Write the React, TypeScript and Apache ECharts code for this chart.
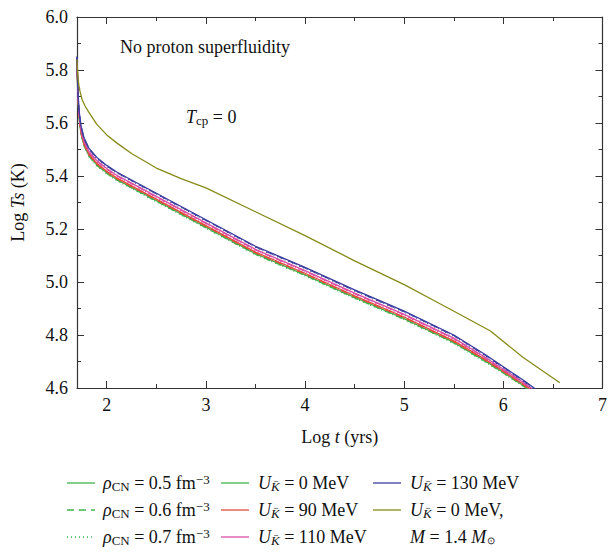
import React, { useEffect, useRef } from "react";
import * as echarts from "echarts";

// ---- data ----
const logT = [1.7, 1.705, 1.71, 1.72, 1.74, 1.77, 1.82, 1.9, 2.0, 2.1, 2.25, 2.5, 2.75, 3.0, 3.5, 4.0, 4.5, 5.0, 5.5, 5.8, 6.0, 6.2, 6.4];

const blue05 = [5.85, 5.78, 5.72, 5.65, 5.59, 5.545, 5.505, 5.47, 5.44, 5.415, 5.385, 5.335, 5.285, 5.235, 5.135, 5.055, 4.97, 4.89, 4.8, 4.73, 4.68, 4.63, 4.575];
const blue06 = [5.85, 5.778, 5.718, 5.648, 5.588, 5.543, 5.503, 5.468, 5.438, 5.413, 5.383, 5.333, 5.283, 5.233, 5.133, 5.053, 4.968, 4.888, 4.798, 4.728, 4.678, 4.628, 4.573];
const blue07 = [5.85, 5.776, 5.716, 5.646, 5.586, 5.541, 5.501, 5.466, 5.436, 5.411, 5.381, 5.331, 5.281, 5.231, 5.131, 5.051, 4.966, 4.886, 4.796, 4.726, 4.676, 4.626, 4.571];

const pink05 = [5.845, 5.77, 5.708, 5.638, 5.578, 5.533, 5.493, 5.458, 5.428, 5.403, 5.373, 5.323, 5.273, 5.223, 5.123, 5.043, 4.958, 4.878, 4.788, 4.72, 4.671, 4.622, 4.567];
const pink06 = [5.843, 5.768, 5.706, 5.636, 5.576, 5.531, 5.491, 5.456, 5.426, 5.401, 5.371, 5.321, 5.271, 5.221, 5.121, 5.041, 4.956, 4.876, 4.786, 4.718, 4.669, 4.62, 4.565];
const pink07 = [5.841, 5.766, 5.704, 5.634, 5.574, 5.529, 5.489, 5.454, 5.424, 5.399, 5.369, 5.319, 5.269, 5.219, 5.119, 5.039, 4.954, 4.874, 4.784, 4.716, 4.667, 4.618, 4.563];

const red05 = [5.84, 5.76, 5.698, 5.628, 5.568, 5.523, 5.483, 5.448, 5.418, 5.393, 5.363, 5.313, 5.263, 5.213, 5.113, 5.033, 4.948, 4.868, 4.778, 4.712, 4.664, 4.615, 4.56];
const red06 = [5.838, 5.758, 5.696, 5.626, 5.566, 5.521, 5.481, 5.446, 5.416, 5.391, 5.361, 5.311, 5.261, 5.211, 5.111, 5.031, 4.946, 4.866, 4.776, 4.71, 4.662, 4.613, 4.558];
const red07 = [5.836, 5.756, 5.694, 5.624, 5.564, 5.519, 5.479, 5.444, 5.414, 5.389, 5.359, 5.309, 5.259, 5.209, 5.109, 5.029, 4.944, 4.864, 4.774, 4.708, 4.66, 4.611, 4.556];

const green05 = [5.835, 5.752, 5.692, 5.622, 5.562, 5.517, 5.477, 5.442, 5.412, 5.387, 5.357, 5.307, 5.257, 5.207, 5.107, 5.027, 4.942, 4.862, 4.772, 4.706, 4.659, 4.61, 4.555];
const green06 = [5.833, 5.75, 5.69, 5.62, 5.56, 5.515, 5.475, 5.44, 5.41, 5.385, 5.355, 5.305, 5.255, 5.205, 5.105, 5.025, 4.94, 4.86, 4.77, 4.704, 4.657, 4.608, 4.553];
const green07 = [5.831, 5.748, 5.688, 5.618, 5.558, 5.513, 5.473, 5.438, 5.408, 5.383, 5.353, 5.303, 5.253, 5.203, 5.103, 5.023, 4.938, 4.858, 4.768, 4.702, 4.655, 4.606, 4.551];

const logTOlive = [1.7, 1.705, 1.71, 1.72, 1.73, 1.75, 1.78, 1.82, 1.9, 2.0, 2.1, 2.25, 2.5, 2.75, 3.0, 3.5, 4.0, 4.5, 5.0, 5.3, 5.6, 5.87, 6.2, 6.57];
const olive = [5.84, 5.8, 5.77, 5.74, 5.72, 5.69, 5.665, 5.64, 5.595, 5.555, 5.525, 5.485, 5.43, 5.39, 5.355, 5.265, 5.175, 5.08, 4.99, 4.93, 4.87, 4.815, 4.715, 4.62];

const xMajorTicks = [2, 3, 4, 5, 6, 7];
const xMinorTicks = [2.5, 3.5, 4.5, 5.5, 6.5];

const legendLabels = [
  "{i|ρ}{sub|CN} = 0.5 fm{sup|−3}",
  "{i|ρ}{sub|CN} = 0.6 fm{sup|−3}",
  "{i|ρ}{sub|CN} = 0.7 fm{sup|−3}",
  "{i|U}{subi|K̄} = 0 MeV",
  "{i|U}{subi|K̄} = 90 MeV",
  "{i|U}{subi|K̄} = 110 MeV",
  "{i|U}{subi|K̄} = 130 MeV",
  "{i|U}{subi|K̄} = 0 MeV,",
  "{i|M} = 1.4 {i|M}{sun|⊙}",
];

const COLORS = { green: "#3db54a", red: "#e84a3c", pink: "#d94fa6", blue: "#3b3f9e", olive: "#878a16" };
const DASH: any = { solid: "solid", dashed: [7, 5], dotted: [1, 3] };
const FONT = "Liberation Serif";
const FS = 18;

function zip(xs: number[], ys: number[]) {
  return xs.map((x, i) => [x, ys[i]]);
}

export default function App() {
  const ref = useRef<HTMLDivElement>(null);
  useEffect(() => {
    if (!ref.current) return;
    const chart = echarts.init(ref.current, undefined, { renderer: "svg" });
    const axisColor = "#333";
    const curve = (name: string, ys: number[], color: string, type: any) => ({
      name,
      type: "line",
      data: zip(logT, ys),
      symbol: "none",
      smooth: false,
      lineStyle: { color, width: 1.3, type },
      itemStyle: { color },
    });
    const rich: any = {
      i: { fontStyle: "italic", fontFamily: FONT, fontSize: FS, color: "#111" },
      sub: { fontFamily: FONT, fontSize: 13, padding: [7, 0, 0, 0], color: "#111" },
      subi: { fontFamily: FONT, fontStyle: "italic", fontSize: 13, padding: [7, 0, 0, 0], color: "#111" },
      sup: { fontFamily: FONT, fontSize: 13, padding: [0, 0, 8, 0], color: "#111" },
      sun: { fontFamily: FONT, fontSize: 10, padding: [7, 0, 0, 1], color: "#111" },
    };
    const legendCols = [
      { lx: 67, tx: 103 },
      { lx: 221, tx: 258 },
      { lx: 373, tx: 410 },
    ];
    const rows = [483, 510, 537];
    const entries: any[] = [
      [0, 0, COLORS.green, DASH.solid, 0],
      [0, 1, COLORS.green, DASH.dashed, 1],
      [0, 2, COLORS.green, DASH.dotted, 2],
      [1, 0, COLORS.green, DASH.solid, 3],
      [1, 1, COLORS.red, DASH.solid, 4],
      [1, 2, COLORS.pink, DASH.solid, 5],
      [2, 0, COLORS.blue, DASH.solid, 6],
      [2, 1, COLORS.olive, DASH.solid, 7],
      [2, 2, null, null, 8],
    ];
    const legendGraphics: any[] = [];
    entries.forEach(([c, r, color, dash, li]) => {
      const col = legendCols[c];
      const y = rows[r];
      if (color) {
        legendGraphics.push({
          type: "line",
          shape: { x1: col.lx, y1: y, x2: col.lx + 28, y2: y },
          style: { stroke: color, lineWidth: 1.3, lineDash: dash === "solid" ? null : dash },
        });
      }
      legendGraphics.push({
        type: "text",
        x: col.tx,
        y,
        style: {
          text: legendLabels[li],
          fontFamily: FONT,
          fontSize: FS,
          fill: "#111",
          verticalAlign: "middle",
          rich,
        },
      });
    });

    const xCommon = { type: "value", min: 1.7, max: 7, splitLine: { show: false } };
    const yCommon = {
      type: "value",
      min: 4.6,
      max: 6.0,
      interval: 0.2,
      splitLine: { show: false },
      minorTick: { show: true, splitNumber: 2, length: 4, lineStyle: { color: axisColor } },
      axisTick: { inside: true, length: 7, lineStyle: { color: axisColor } },
      axisLine: { lineStyle: { color: axisColor, width: 1.2 } },
    };
    chart.setOption({
      animation: false,
      backgroundColor: "#fff",
      grid: { left: 77, right: 4, top: 17, bottom: 171, containLabel: false },
      xAxis: [
        {
          ...xCommon,
          position: "bottom",
          axisLine: { lineStyle: { color: axisColor, width: 1.2 } },
          axisTick: { inside: true, length: 7, customValues: xMajorTicks, lineStyle: { color: axisColor } },
          axisLabel: { customValues: xMajorTicks, fontFamily: FONT, fontSize: FS, color: "#111", margin: 8 },
          name: "Log {i|t} (yrs)",
          nameLocation: "middle",
          nameGap: 40,
          nameTextStyle: { fontFamily: FONT, fontSize: FS, color: "#111", rich },
        },
        {
          ...xCommon,
          position: "bottom",
          axisLine: { show: false },
          axisTick: { inside: true, length: 4, customValues: xMinorTicks, lineStyle: { color: axisColor } },
          axisLabel: { show: false },
        },
        {
          ...xCommon,
          position: "top",
          axisLine: { lineStyle: { color: axisColor, width: 1.2 } },
          axisTick: { inside: true, length: 7, customValues: xMajorTicks, lineStyle: { color: axisColor } },
          axisLabel: { show: false },
        },
        {
          ...xCommon,
          position: "top",
          axisLine: { show: false },
          axisTick: { inside: true, length: 4, customValues: xMinorTicks, lineStyle: { color: axisColor } },
          axisLabel: { show: false },
        },
      ],
      yAxis: [
        {
          ...yCommon,
          position: "left",
          axisLabel: { formatter: (v: number) => v.toFixed(1), fontFamily: FONT, fontSize: FS, color: "#111", margin: 9 },
          name: "Log {i|Ts} (K)",
          nameLocation: "middle",
          nameGap: 50,
          nameRotate: 90,
          nameTextStyle: { fontFamily: FONT, fontSize: FS, color: "#111", rich },
        },
        { ...yCommon, position: "right", axisLabel: { show: false } },
      ],
      graphic: [
        {
          type: "text",
          x: 120,
          y: 47,
          style: { text: "No proton superfluidity", fontFamily: FONT, fontSize: FS, fill: "#111", verticalAlign: "middle" },
        },
        {
          type: "text",
          x: 186,
          y: 117,
          style: {
            text: "{i|T}{sub|cp} = 0",
            fontFamily: FONT,
            fontSize: FS,
            fill: "#111",
            verticalAlign: "middle",
            rich,
          },
        },
        ...legendGraphics,
      ],
      series: [
        curve("g05", green05, COLORS.green, DASH.solid),
        curve("g06", green06, COLORS.green, DASH.dashed),
        curve("g07", green07, COLORS.green, DASH.dotted),
        curve("r05", red05, COLORS.red, DASH.solid),
        curve("r06", red06, COLORS.red, DASH.dashed),
        curve("r07", red07, COLORS.red, DASH.dotted),
        curve("p05", pink05, COLORS.pink, DASH.solid),
        curve("p06", pink06, COLORS.pink, DASH.dashed),
        curve("p07", pink07, COLORS.pink, DASH.dotted),
        curve("b05", blue05, COLORS.blue, DASH.solid),
        curve("b06", blue06, COLORS.blue, DASH.dashed),
        curve("b07", blue07, COLORS.blue, DASH.dotted),
        {
          name: "olive",
          type: "line",
          data: zip(logTOlive, olive),
          symbol: "none",
          smooth: false,
          lineStyle: { color: COLORS.olive, width: 1.3 },
        },
      ],
    });
    return () => chart.dispose();
  }, []);
  return <div ref={ref} style={{ position: "fixed", left: 0, top: 0, width: 610, height: 559 }} />;
}
